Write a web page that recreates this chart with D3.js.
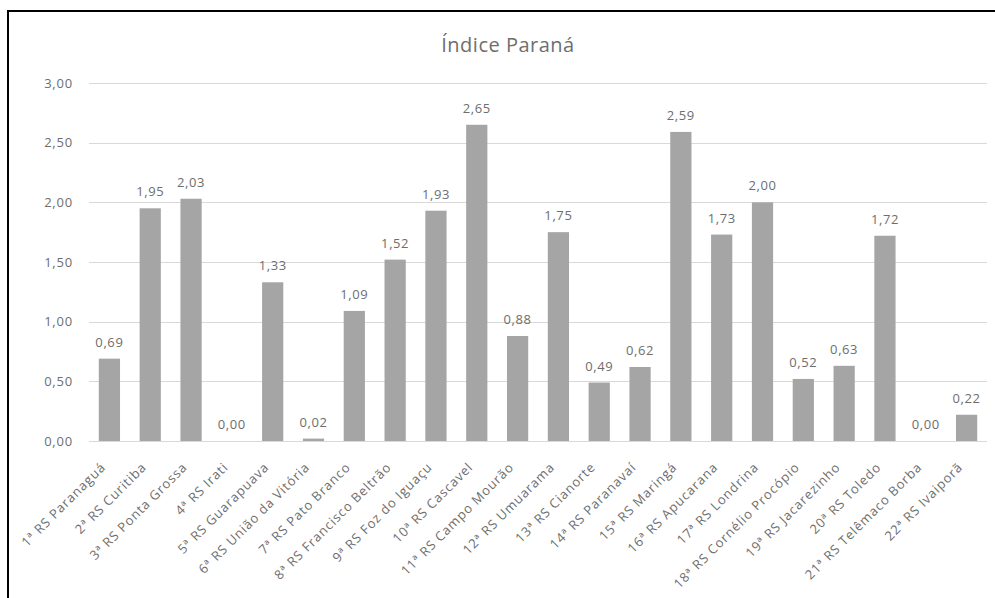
<!DOCTYPE html>
<html>
<head>
<meta charset="utf-8">
<script src="https://cdn.jsdelivr.net/npm/d3@7"></script>
<style>
  html, body { margin: 0; padding: 0; background: #fff; }
  svg { display: block; }
</style>
</head>
<body>
<svg id="chart" width="995" height="598"></svg>
<script>
const title = "Índice Paraná";
const categories = [
  "1ª RS Paranaguá", "2ª RS Curitiba", "3ª RS Ponta Grossa", "4ª RS Irati",
  "5ª RS Guarapuava", "6ª RS União da Vitória", "7ª RS Pato Branco",
  "8ª RS Francisco Beltrão", "9ª RS Foz do Iguaçu", "10ª RS Cascavel",
  "11ª RS Campo Mourão", "12ª RS Umuarama", "13ª RS Cianorte",
  "14ª RS Paranavaí", "15ª RS Maringá", "16ª RS Apucarana",
  "17ª RS Londrina", "18ª RS Cornélio Procópio", "19ª RS Jacarezinho",
  "20ª RS Toledo", "21ª RS Telêmaco Borba", "22ª RS Ivaiporã"
];
const values = [0.69, 1.95, 2.03, 0.00, 1.33, 0.02, 1.09, 1.52, 1.93, 2.65,
  0.88, 1.75, 0.49, 0.62, 2.59, 1.73, 2.00, 0.52, 0.63, 1.72, 0.00, 0.22];
const yTicks = [0, 0.5, 1.0, 1.5, 2.0, 2.5, 3.0];

const fmt = v => d3.format(".2f")(v).replace(".", ",");
const font = "'Open Sans', Lato, sans-serif";
const textCol = "#6e6e6e";

const svg = d3.select("#chart");

// chart border
svg.append("rect")
  .attr("x", 8).attr("y", 11)
  .attr("width", 1100).attr("height", 700)
  .attr("fill", "#fff").attr("stroke", "#000").attr("stroke-width", 2);

const x = d3.scaleBand().domain(categories).range([89, 987]).paddingInner(0.48).paddingOuter(0.24);
const y = d3.scaleLinear().domain([0, 3]).range([441, 83]);

// gridlines
svg.append("g").selectAll("line").data(yTicks).join("line")
  .attr("x1", 89).attr("x2", 987)
  .attr("y1", d => Math.round(y(d)) + 0.5).attr("y2", d => Math.round(y(d)) + 0.5)
  .attr("stroke", "#d9d9d9").attr("stroke-width", 1);

// y axis labels
const yAxis = d3.axisLeft(y).tickValues(yTicks).tickFormat(fmt).tickSize(0).tickPadding(16);
const yg = svg.append("g").attr("transform", "translate(89,0)").call(yAxis);
yg.select(".domain").remove();
yg.selectAll("text").attr("fill", textCol).attr("font-size", 13).attr("font-family", font)
  .attr("letter-spacing", 0.8);

// title
svg.append("text")
  .attr("x", 508).attr("y", 52)
  .attr("text-anchor", "middle")
  .attr("font-family", font).attr("font-size", 20).attr("fill", textCol)
  .attr("letter-spacing", 0.5)
  .text(title);

// bars
const data = categories.map((c, i) => ({ c, v: values[i] }));
svg.append("g").selectAll("rect").data(data).join("rect")
  .attr("x", d => x(d.c))
  .attr("width", x.bandwidth())
  .attr("y", d => y(d.v))
  .attr("height", d => y(0) - y(d.v))
  .attr("fill", "#a5a5a5");

// data labels
svg.append("g").selectAll("text").data(data).join("text")
  .attr("x", d => x(d.c) + x.bandwidth() / 2)
  .attr("y", d => y(d.v) - 12)
  .attr("text-anchor", "middle")
  .attr("font-family", font).attr("font-size", 13).attr("fill", textCol)
  .attr("letter-spacing", 0.6)
  .text(d => fmt(d.v));

// x axis labels
const xAxis = d3.axisBottom(x).tickSize(0).tickPadding(0);
const xg = svg.append("g").attr("transform", "translate(0,441)").call(xAxis);
xg.select(".domain").remove();
xg.selectAll("text")
  .attr("font-family", font).attr("font-size", 13).attr("fill", textCol)
  .attr("letter-spacing", 0.9)
  .attr("text-anchor", "end")
  .attr("dy", null)
  .attr("transform", "translate(-3,27) rotate(-45)");
</script>
</body>
</html>
